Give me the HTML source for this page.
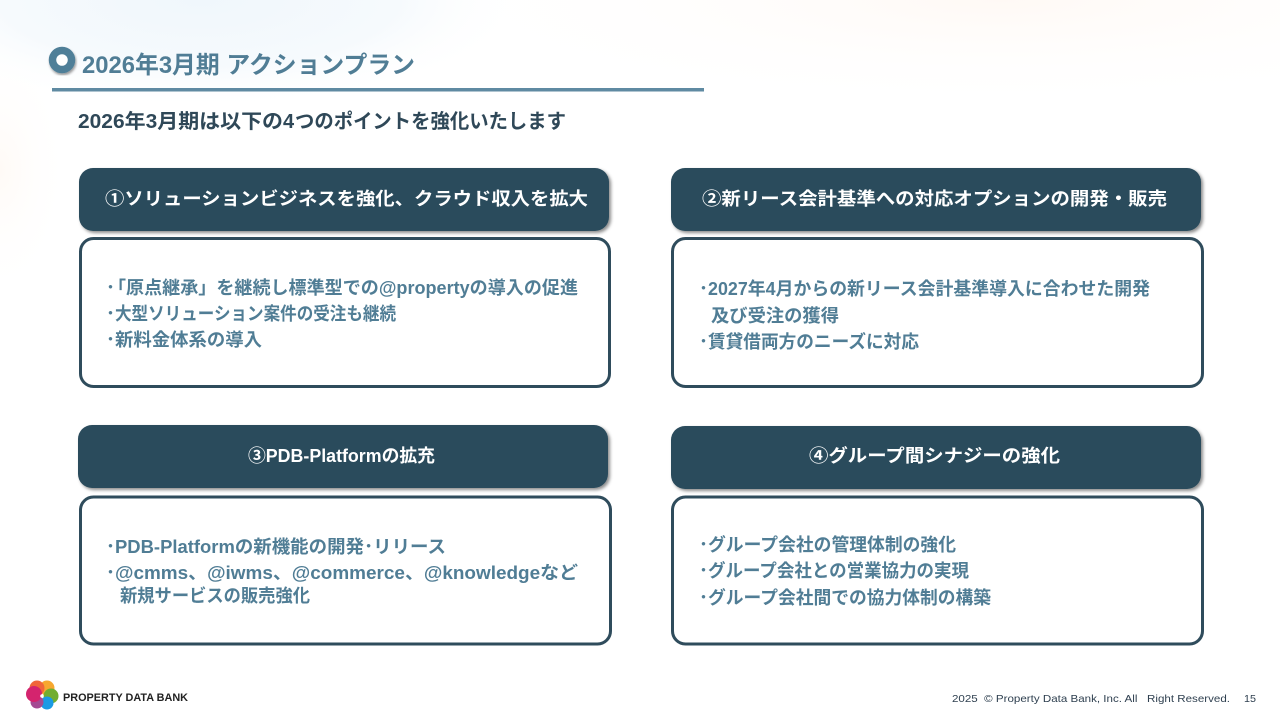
<!DOCTYPE html>
<html lang="ja"><head><meta charset="utf-8"><title>2026年3月期 アクションプラン</title>
<style>
html,body{margin:0;padding:0;width:1280px;height:720px;overflow:hidden;background:#fff}
svg{display:block;position:absolute;left:0;top:0}
text{font-family:"Liberation Sans","Noto Sans CJK JP",sans-serif;white-space:pre}
.h{font-weight:700;font-size:18px;fill:#fff}
.b{font-weight:700;font-size:18px;fill:#507d95}
</style></head><body>
<svg width="1280" height="720" viewBox="0 0 1280 720" xmlns="http://www.w3.org/2000/svg">
<defs>
<radialGradient id="blue" cx="200" cy="0" r="1" gradientUnits="userSpaceOnUse" gradientTransform="translate(200 0) scale(330 110) translate(-200 0)"><stop offset="0" stop-color="#f0f7fc"/><stop offset=".6" stop-color="#f6fafd"/><stop offset="1" stop-color="#fff" stop-opacity="0"/></radialGradient>
<radialGradient id="peach" cx="1000" cy="0" r="1" gradientUnits="userSpaceOnUse" gradientTransform="translate(1000 0) scale(600 110) translate(-1000 0)"><stop offset="0" stop-color="#fff9f5"/><stop offset="1" stop-color="#fff" stop-opacity="0"/></radialGradient>
<radialGradient id="left" cx="0" cy="170" r="1" gradientUnits="userSpaceOnUse" gradientTransform="translate(0 170) scale(70 130) translate(0 -170)"><stop offset="0" stop-color="#fffaf6"/><stop offset="1" stop-color="#fff" stop-opacity="0"/></radialGradient>
<filter id="s" x="-5%" y="-10%" width="110%" height="125%"><feDropShadow dx="2" dy="2" stdDeviation="1.5" flood-color="#000" flood-opacity=".45"/></filter>
<filter id="cs" x="-30%" y="-30%" width="160%" height="160%"><feDropShadow dx="1" dy="2" stdDeviation="1.2" flood-color="#000" flood-opacity=".4"/></filter>
</defs>
<rect width="1280" height="720" fill="#fff"/>
<rect width="1280" height="130" fill="url(#peach)"/>
<rect width="600" height="130" fill="url(#blue)"/>
<rect width="80" height="320" fill="url(#left)"/>

<circle cx="62" cy="60" r="9.5" fill="#fff" stroke="#4f7f98" stroke-width="7.5" filter="url(#cs)"/>
<text x="82" y="73" font-size="24" font-weight="700" fill="#507d95" textLength="333" lengthAdjust="spacingAndGlyphs">2026年3月期 アクションプラン</text>
<rect x="52" y="88" width="652" height="3.5" fill="#5f8aa2"/>
<g font-size="20" font-weight="700" fill="#2f4858">
<text x="78" y="128" textLength="205" lengthAdjust="spacingAndGlyphs">2026年3月期は以下の</text>
<text x="283" y="128">4</text>
<text x="295" y="128" textLength="271" lengthAdjust="spacingAndGlyphs">つのポイントを強化いたします</text>
</g>

<rect x="79" y="168" width="530" height="63" rx="14" fill="#2c4b5b" filter="url(#s)"/>
<rect x="671" y="168" width="530" height="63" rx="14" fill="#2c4b5b" filter="url(#s)"/>
<rect x="78" y="425" width="530" height="63" rx="14" fill="#2c4b5b" filter="url(#s)"/>
<rect x="671" y="426" width="530" height="63" rx="14" fill="#2c4b5b" filter="url(#s)"/>

<text class="h" x="105" y="205" textLength="483" lengthAdjust="spacingAndGlyphs">①ソリューションビジネスを強化、クラウド収入を拡大</text>
<text class="h" x="702" y="205" textLength="465" lengthAdjust="spacingAndGlyphs">②新リース会計基準への対応オプションの開発・販売</text>
<text class="h" x="248" y="462" textLength="187" lengthAdjust="spacingAndGlyphs">③PDB-Platformの拡充</text>
<text class="h" x="809" y="462" textLength="251" lengthAdjust="spacingAndGlyphs">④グループ間シナジーの強化</text>

<g fill="#fff" stroke="#2f4c5c" stroke-width="3">
<rect x="80.5" y="238.5" width="529" height="148" rx="13"/>
<rect x="672.5" y="238.5" width="530" height="148" rx="13"/>
<rect x="80.5" y="497" width="530" height="147" rx="13"/>
<rect x="672.5" y="497" width="530" height="147" rx="13"/>
</g>

<text class="b" x="106" y="294">･</text><text class="b" x="108" y="294" textLength="470" lengthAdjust="spacingAndGlyphs">「原点継承」を継続し標準型での@propertyの導入の促進</text>
<text class="b" x="106" y="320">･</text><text class="b" x="115" y="320" textLength="281" lengthAdjust="spacingAndGlyphs">大型ソリューション案件の受注も継続</text>
<text class="b" x="106" y="346">･</text><text class="b" x="115" y="346" textLength="147" lengthAdjust="spacingAndGlyphs">新料金体系の導入</text>

<text class="b" x="699" y="295">･</text><text class="b" x="708" y="295" textLength="442" lengthAdjust="spacingAndGlyphs">2027年4月からの新リース会計基準導入に合わせた開発</text>
<text class="b" x="711" y="322" textLength="128" lengthAdjust="spacingAndGlyphs">及び受注の獲得</text>
<text class="b" x="699" y="348">･</text><text class="b" x="708" y="348" textLength="211" lengthAdjust="spacingAndGlyphs">賃貸借両方のニーズに対応</text>

<text class="b" x="106" y="553">･</text><text class="b" x="115" y="553" textLength="331" lengthAdjust="spacingAndGlyphs">PDB-Platformの新機能の開発･リリース</text>
<text class="b" x="106" y="579">･</text><text class="b" x="115" y="579" textLength="463" lengthAdjust="spacingAndGlyphs">@cmms、@iwms、@commerce、@knowledgeなど</text>
<text class="b" x="120" y="602" textLength="190" lengthAdjust="spacingAndGlyphs">新規サービスの販売強化</text>

<text class="b" x="699" y="551">･</text><text class="b" x="708" y="551" textLength="248" lengthAdjust="spacingAndGlyphs">グループ会社の管理体制の強化</text>
<text class="b" x="699" y="577">･</text><text class="b" x="708" y="577" textLength="261" lengthAdjust="spacingAndGlyphs">グループ会社との営業協力の実現</text>
<text class="b" x="699" y="604">･</text><text class="b" x="708" y="604" textLength="283" lengthAdjust="spacingAndGlyphs">グループ会社間での協力体制の構築</text>

<g>
<circle cx="47" cy="688" r="7.5" fill="#f7a72f"/>
<circle cx="37" cy="688" r="7.5" fill="#f0653a"/>
<circle cx="51" cy="696" r="7.5" fill="#72ad30"/>
<circle cx="47" cy="703" r="6.5" fill="#1b9ae4"/>
<circle cx="37" cy="702" r="6.5" fill="#a44a92"/>
<circle cx="34" cy="694" r="8" fill="#d4246e"/>
</g>
<circle cx="42" cy="696" r="1.8" fill="#fff"/>
<text x="63" y="701" font-size="11" font-weight="700" fill="#222" textLength="125" lengthAdjust="spacingAndGlyphs">PROPERTY DATA BANK</text>

<text x="952" y="702" font-size="10.5" fill="#2f4050" textLength="278" lengthAdjust="spacingAndGlyphs">2025  © Property Data Bank, Inc. All   Right Reserved.</text>
<text x="1244" y="702" font-size="10.5" fill="#2f4050" textLength="12" lengthAdjust="spacingAndGlyphs">15</text>
</svg>
</body></html>
